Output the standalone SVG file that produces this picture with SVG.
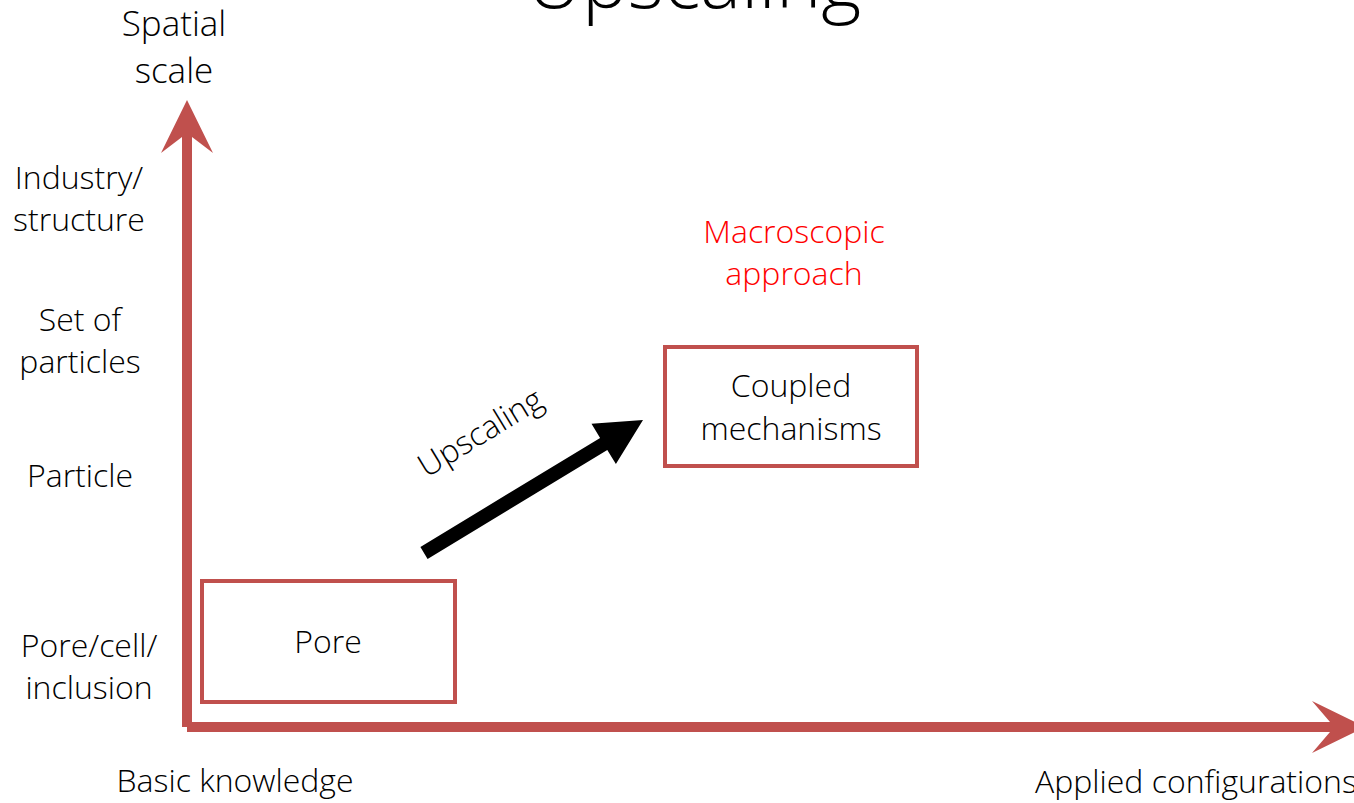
<svg xmlns="http://www.w3.org/2000/svg" width="1354" height="803" viewBox="0 0 1354 803">
<style>
text{font-family:"Open Sans","Noto Sans","Liberation Sans",sans-serif;font-size:32px;font-weight:300;fill:#000;}
.c{text-anchor:middle;}
.big{font-size:35px;}
.red{fill:#FF0000;}
.box{fill:#fff;stroke:#C0504D;stroke-width:4;}
.axis{fill:#C0504D;}
</style>
<rect width="1354" height="803" fill="#fff"/>
<g id="title"><text class="c" x="694" y="8" style="font-size:77px">Upscaling</text></g>
<g id="connectors">
  <path class="axis" d="M182,137 L182,727 L192,727 L192,137 L213,153 L187,100 L161,153 Z"/>
  <path class="axis" d="M187,722 L1330,722 L1312,701 L1365,727 L1312,753 L1330,732 L187,732 Z"/>
  <polygon fill="#000" points="420.4,547 600.1,437.9 591.5,423.8 643,420 615.9,464 607.3,449.9 427.6,559"/>
</g>
<g id="axis-labels">
  <text class="c big" x="174" y="36">Spatial</text>
  <text class="c big" x="174" y="83">scale</text>
  <text class="c" x="79" y="189">Industry/</text>
  <text class="c" x="79" y="231">structure</text>
  <text class="c" x="80" y="331">Set of</text>
  <text class="c" x="80" y="373">particles</text>
  <text class="c" x="80" y="487">Particle</text>
  <text class="c" x="89" y="657">Pore/cell/</text>
  <text class="c" x="89" y="699">inclusion</text>
  <text class="c" x="235" y="792">Basic knowledge</text>
  <text x="1035" y="793">Applied configurations</text>
</g>
<g id="macroscopic">
  <text class="c red" x="794" y="243">Macroscopic</text>
  <text class="c red" x="794" y="285">approach</text>
</g>
<g id="upscaling-label">
  <text class="c" transform="translate(486,442) rotate(-31.3)">Upscaling</text>
</g>
<g id="pore">
  <rect class="box" x="202" y="581" width="253" height="121"/>
  <text class="c" x="328" y="653">Pore</text>
</g>
<g id="coupled">
  <rect class="box" x="665" y="347" width="252" height="119"/>
  <text class="c" x="791" y="397">Coupled</text>
  <text class="c" x="791" y="440">mechanisms</text>
</g>
</svg>
